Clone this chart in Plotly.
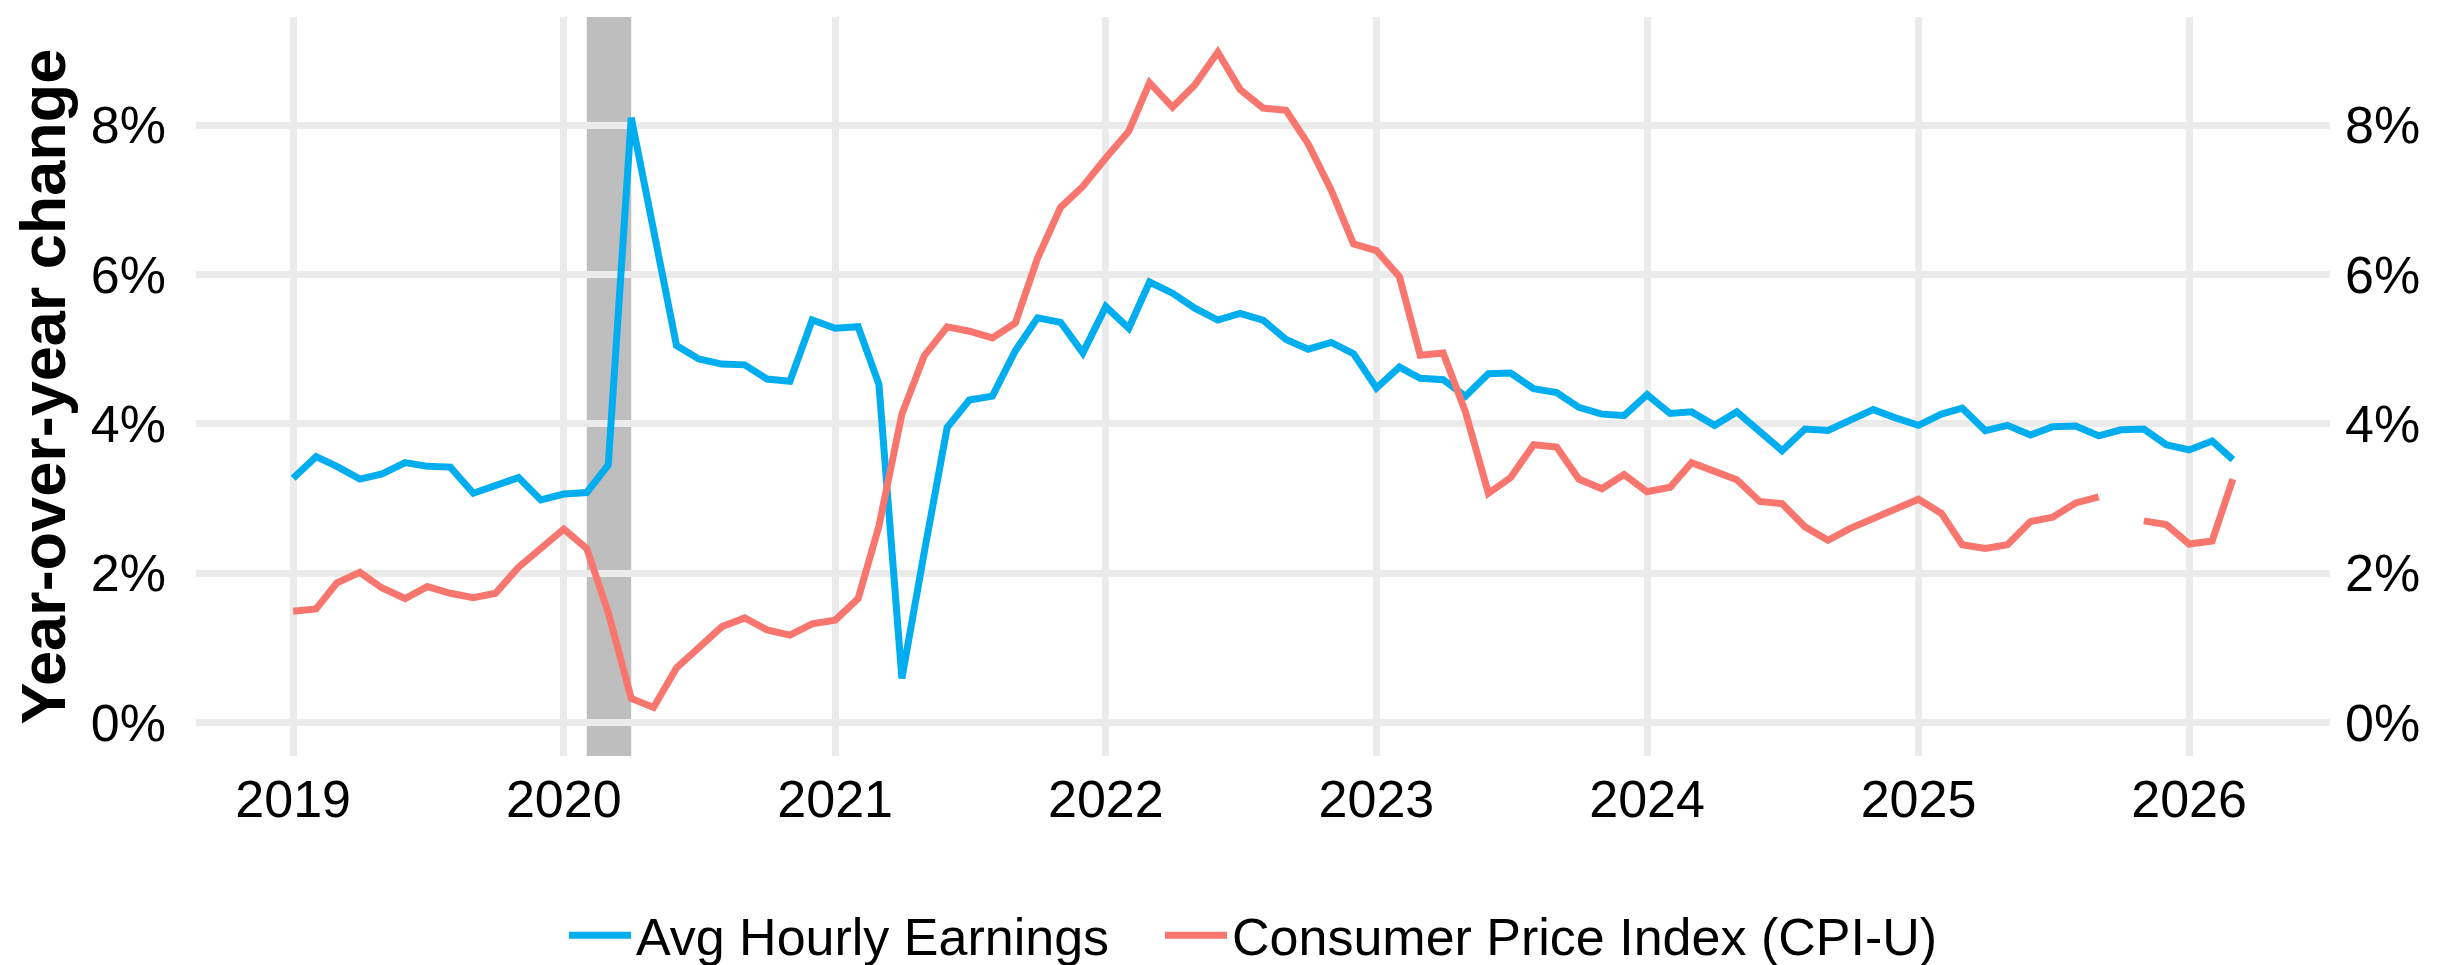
import pandas as pd
import plotly.graph_objects as go

# ---- Data (monthly, Jan 2019 - Mar 2026), year-over-year % change ----
months = pd.date_range("2019-01-01", "2026-03-01", freq="MS")

avg_hourly_earnings = [
    3.27, 3.56, 3.43, 3.26, 3.33, 3.48, 3.43, 3.42, 3.07, 3.17, 3.28, 2.98,  # 2019
    3.06, 3.08, 3.45, 8.10, 6.58, 5.05, 4.87, 4.80, 4.79, 4.60, 4.57, 5.39,  # 2020
    5.28, 5.30, 4.53, 0.59, 2.27, 3.95, 4.32, 4.37, 4.98, 5.42, 5.36, 4.95,  # 2021
    5.57, 5.28, 5.90, 5.75, 5.55, 5.39, 5.48, 5.39, 5.13, 5.00, 5.09, 4.94,  # 2022
    4.48, 4.76, 4.61, 4.59, 4.37, 4.67, 4.68, 4.47, 4.42, 4.22, 4.13, 4.11,  # 2023
    4.39, 4.14, 4.16, 3.98, 4.16, 3.91, 3.64, 3.93, 3.91, 4.05, 4.19, 4.08,  # 2024
    3.98, 4.13, 4.21, 3.91, 3.98, 3.85, 3.96, 3.97, 3.84, 3.92, 3.93, 3.72,  # 2025
    3.65, 3.77, 3.52,                                                      # 2026
]

cpi_u = [
    1.49, 1.52, 1.87, 2.01, 1.80, 1.66, 1.82, 1.73, 1.67, 1.73, 2.08, 2.32,  # 2019
    2.59, 2.33, 1.47, 0.32, 0.20, 0.73, 1.01, 1.28, 1.40, 1.24, 1.17, 1.32,  # 2020
    1.37, 1.66, 2.63, 4.13, 4.91, 5.30, 5.24, 5.15, 5.35, 6.22, 6.90, 7.18,  # 2021
    7.56, 7.92, 8.57, 8.24, 8.54, 8.98, 8.48, 8.23, 8.20, 7.75, 7.13, 6.41,  # 2022
    6.32, 5.97, 4.92, 4.95, 4.16, 3.07, 3.28, 3.72, 3.69, 3.26, 3.13, 3.32,  # 2023
    3.09, 3.15, 3.48, 3.37, 3.25, 2.96, 2.93, 2.62, 2.44, 2.60, 2.73, 2.87,  # 2024
    2.99, 2.80, 2.38, 2.33, 2.38, 2.69, 2.75, 2.94, 3.02, None, 2.70, 2.65,  # 2025
    2.39, 2.43, 3.26,                                                      # 2026
]

series_names = ["Avg Hourly Earnings", "Consumer Price Index (CPI-U)"]
series_colors = ["#00AEEF", "#F8766D"]

recession_start = "2020-02-01"
recession_end = "2020-04-01"

y_ticks = [0, 2, 4, 6, 8]
y_tick_labels = ["0%", "2%", "4%", "6%", "8%"]
x_ticks = [f"{y}-01-01" for y in range(2019, 2027)]
x_tick_labels = [str(y) for y in range(2019, 2027)]

FONT = "Liberation Sans, Arial, Helvetica, sans-serif"
LW = 7

fig = go.Figure()
fig.add_trace(go.Scatter(
    x=months, y=avg_hourly_earnings, mode="lines", name=series_names[0],
    line=dict(color=series_colors[0], width=LW), legend="legend",
))
fig.add_trace(go.Scatter(
    x=months, y=cpi_u, mode="lines", name=series_names[1],
    line=dict(color=series_colors[1], width=LW), connectgaps=False,
    yaxis="y2", legend="legend2",
))

fig.add_shape(type="rect", xref="x", yref="paper",
              x0=recession_start, x1=recession_end, y0=0, y1=1,
              fillcolor="#BEBEBE", line=dict(width=0), layer="between")
fig.add_shape(type="line", xref="paper", yref="y", x0=0, x1=1, y0=0, y1=0,
              line=dict(color="black", width=3), layer="between")

yr = [-0.45, 9.45]
common_y = dict(range=yr, tickmode="array", tickvals=y_ticks, ticktext=y_tick_labels,
                ticks="", zeroline=False, showline=False,
                tickfont=dict(family=FONT, size=52, color="black"))

legend_common = dict(orientation="h", xanchor="left", y=-0.2427, yanchor="middle",
                     font=dict(family=FONT, size=52, color="black"),
                     itemwidth=62, bgcolor="rgba(0,0,0,0)")

fig.update_layout(
    width=2446, height=965,
    margin=dict(l=188, r=124, t=9, b=217, autoexpand=False),
    plot_bgcolor="white", paper_bgcolor="white",
    font=dict(family=FONT, color="black"),
    xaxis=dict(range=["2018-08-23", "2026-07-10"], tickmode="array",
               tickvals=x_ticks, ticktext=x_tick_labels, ticks="",
               showgrid=True, gridcolor="#EBEBEB", gridwidth=6.5,
               zeroline=False, showline=False,
               tickfont=dict(family=FONT, size=52, color="black"),
               ticklabelstandoff=8),
    yaxis=dict(showgrid=True, gridcolor="#EBEBEB", gridwidth=6.5, side="left",
               ticklabelstandoff=29, **common_y),
    yaxis2=dict(overlaying="y", side="right", showgrid=False,
                ticklabelstandoff=14, **common_y),
    legend=dict(x=(556 - 188) / 2134, **legend_common),
    legend2=dict(x=(1152 - 188) / 2134, **legend_common),
    showlegend=True,
)

fig.add_annotation(text="<b>Year-over-year change</b>", textangle=-90,
                   xref="paper", yref="paper", x=(34 - 188) / 2134, y=0.5,
                   xanchor="center", yanchor="middle", showarrow=False,
                   font=dict(family=FONT, size=63, color="black"))

fig.write_html("out.html")
